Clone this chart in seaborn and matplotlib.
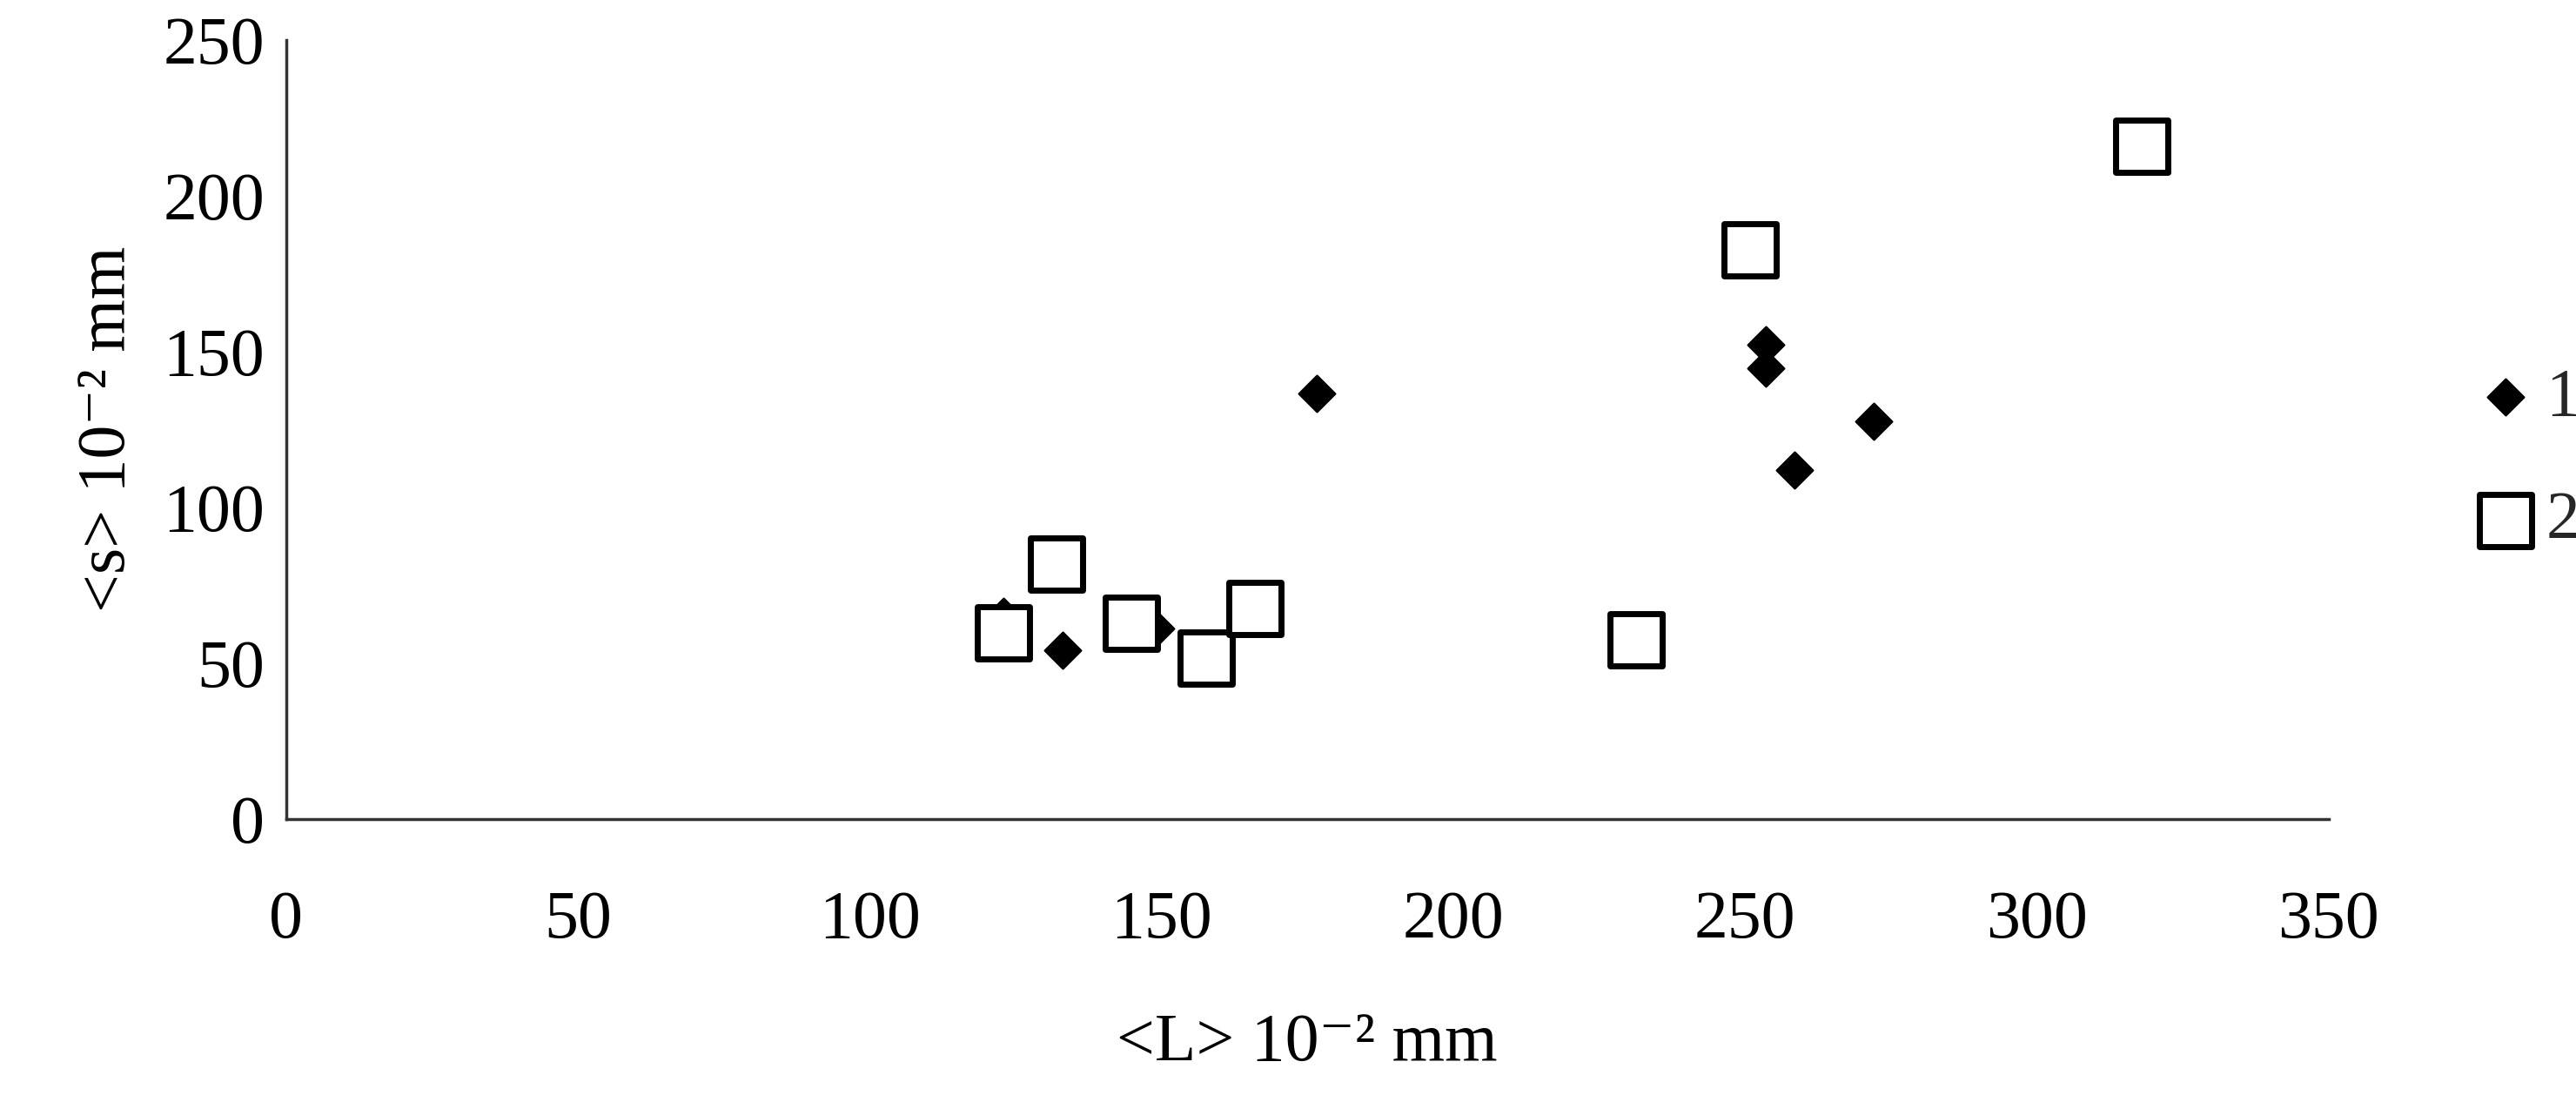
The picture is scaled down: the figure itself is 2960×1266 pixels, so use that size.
import matplotlib
matplotlib.use("Agg")
import matplotlib.pyplot as plt
import seaborn as sns
import pandas as pd

L1 = [123, 133, 149, 176.6, 253.6, 253.6, 258.4, 272]
s1 = [65, 54, 61, 136.6, 152, 144.5, 112, 127.6]
L2 = [123, 132, 144.8, 157.7, 166, 231.4, 250.8, 318]
s2 = [59.6, 81.7, 62.8, 51.7, 67.5, 57.5, 182.5, 215.7]
labels = ["1", "2"]

df = pd.DataFrame({"L": L1 + L2, "s": s1 + s2,
                   "g": [labels[0]] * len(L1) + [labels[1]] * len(L2)})

sns.set_style("white")
plt.rcParams['font.family'] = ['Liberation Serif', 'DejaVu Serif']
fig = plt.figure(figsize=(29.6, 12.66), dpi=100)
ax = fig.add_axes([0.111, 0.257, 0.793, 0.707])

d1 = df[df.g == "1"]; d2 = df[df.g == "2"]
sns.scatterplot(data=d1, x="L", y="s", ax=ax, marker="D", s=450, color="black",
                edgecolor="black", label="1", zorder=2)
sns.scatterplot(data=d2, x="L", y="s", ax=ax, marker="s", s=1900, facecolor="white",
                edgecolor="black", linewidth=5, label="2", zorder=3)

ax.set_xlim(0, 350); ax.set_ylim(0, 250)
ax.set_xticks(range(0, 351, 50)); ax.set_yticks(range(0, 251, 50))
for sp in ["top", "right"]:
    ax.spines[sp].set_visible(False)
for sp in ["left", "bottom"]:
    ax.spines[sp].set_color("#333333"); ax.spines[sp].set_linewidth(2.5)
ax.tick_params(axis="both", labelsize=56, labelcolor="black", direction="out",
               length=14, width=2.5, color="#333333")
ax.tick_params(axis="x", pad=45)
ax.set_xlabel("<L> 10⁻² mm", fontsize=56, labelpad=50, color="black")
ax.set_ylabel("<s> 10⁻² mm", fontsize=56, labelpad=20, color="black")
leg = ax.legend(loc="center left", bbox_to_anchor=(1.06, 0.46), frameon=False,
                fontsize=56, handletextpad=0.2, handlelength=0.8,
                labelspacing=0.9, borderaxespad=0)
fig.savefig("out.png", dpi=100)
